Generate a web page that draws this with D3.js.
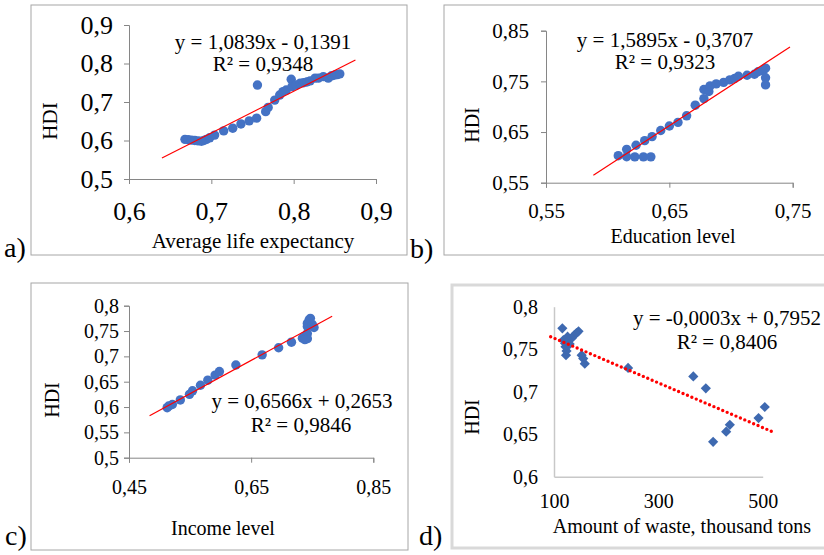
<!DOCTYPE html>
<html>
<head>
<meta charset="utf-8">
<script src="https://cdn.jsdelivr.net/npm/d3@7/dist/d3.min.js"></script>
<style>
html,body{margin:0;padding:0;background:#fff;}
svg{display:block;font-family:"Liberation Serif","Times New Roman",serif;}
</style>
</head>
<body>
<svg id="chart" width="824" height="555"></svg>
<script>
// ---------- DATA ----------
// a) Average life expectancy vs HDI
const aLife = [0.668,0.672,0.676,0.680,0.684,0.688,0.691,0.694,0.698,0.704,0.715,0.726,0.736,0.746,0.755,0.756,0.766,0.769,0.777,0.783,0.787,0.791,0.797,0.798,0.803,0.808,0.812,0.816,0.820,0.826,0.830,0.836,0.842,0.846,0.850,0.853,0.856];
const aHDI  = [0.603,0.602,0.601,0.600,0.599,0.598,0.600,0.603,0.607,0.614,0.625,0.632,0.643,0.651,0.658,0.744,0.675,0.686,0.705,0.718,0.727,0.731,0.759,0.740,0.744,0.749,0.750,0.752,0.755,0.762,0.762,0.766,0.762,0.768,0.770,0.771,0.773];
const aTrend = {slope:1.0839, intercept:-0.1391, from:0.64, to:0.875};
const aEquation = ["y = 1,0839x - 0,1391", "R² = 0,9348"];

// b) Education level vs HDI
const bEdu = [0.6086,0.6154,0.6154,0.622,0.623,0.629,0.630,0.635,0.636,0.643,0.650,0.657,0.664,0.671,0.678,0.678,0.682,0.683,0.688,0.694,0.699,0.703,0.706,0.713,0.719,0.722,0.726,0.728,0.728,0.728];
const bHDI = [0.6033,0.6158,0.6013,0.601,0.624,0.601,0.633,0.601,0.641,0.653,0.662,0.669,0.682,0.703,0.716,0.734,0.730,0.741,0.745,0.748,0.753,0.756,0.760,0.762,0.764,0.769,0.771,0.776,0.757,0.743];
const bTrend = {slope:1.5895, intercept:-0.3707, from:0.5884, to:0.7478};
const bEquation = ["y = 1,5895x - 0,3707", "R² = 0,9323"];

// c) Income level vs HDI
const cIncome = [0.5125,0.515,0.521,0.534,0.549,0.554,0.567,0.579,0.591,0.598,0.625,0.668,0.695,0.716,0.734,0.739,0.742,0.742,0.742,0.745,0.747,0.750,0.753,0.742,0.738];
const cHDI    = [0.5987,0.602,0.605,0.614,0.625,0.632,0.643,0.653,0.663,0.670,0.683,0.703,0.717,0.728,0.736,0.741,0.745,0.759,0.765,0.772,0.775,0.763,0.757,0.735,0.733];
const cTrend = {slope:0.6566, intercept:0.2653, from:0.4837, to:0.7826};
const cEquation = ["y = 0,6566x + 0,2653", "R² = 0,9846"];

// d) Amount of waste vs HDI
const dWaste = [116,118,121,123,124,126,129,134,138,143,147,153,156,159,242,367,391,405,430,437,492,504,122,130];
const dHDI   = [0.7745,0.7608,0.757,0.743,0.748,0.7647,0.761,0.763,0.766,0.769,0.771,0.743,0.739,0.733,0.728,0.718,0.704,0.641,0.653,0.661,0.669,0.682,0.753,0.756];
const dTrend = {slope:-0.000263, intercept:0.7893, from:93.6, to:519};
const dEquation = ["y = -0,0003x + 0,7952", "R² = 0,8406"];

// tick values
const aXTicks = [0.6,0.7,0.8,0.9], aYTicks = [0.5,0.6,0.7,0.8,0.9];
const bXTicks = [0.55,0.65,0.75], bYTicks = [0.55,0.65,0.75,0.85];
const cXTicks = [0.45,0.65,0.85], cYTicks = [0.5,0.55,0.6,0.65,0.7,0.75,0.8];
const dXTicks = [100,300,500], dYTicks = [0.6,0.65,0.7,0.75,0.8];

// ---------- DRAW ----------
const svg = d3.select("#chart");
const fmt = v => String(+v.toFixed(4)).replace(".", ",");

function panel(o){
  const g = svg.append("g");
  g.append("rect").attr("x",o.box[0]).attr("y",o.box[1]).attr("width",o.box[2]-o.box[0]).attr("height",o.box[3]-o.box[1])
    .attr("fill","#fff").attr("stroke",o.boxColor).attr("stroke-width",o.boxWidth);
  const x = d3.scaleLinear().domain(o.xDomain).range(o.xRange);
  const y = d3.scaleLinear().domain(o.yDomain).range(o.yRange);

  const xa = g.append("g").attr("transform",`translate(0,${o.yRange[0]})`)
    .call(d3.axisBottom(x).tickValues(o.xTicks).tickFormat(fmt).tickSizeOuter(0).tickSize(o.tick).tickPadding(o.xPad));
  const ya = g.append("g").attr("transform",`translate(${o.xRange[0]},0)`)
    .call(d3.axisLeft(y).tickValues(o.yTicks).tickFormat(fmt).tickSizeOuter(0).tickSize(o.tick).tickPadding(o.yPad));
  [xa,ya].forEach(a=>{
    a.attr("font-family",null);
    a.select(".domain").attr("stroke",o.axisColor).attr("stroke-width",o.axisWidth);
    a.selectAll(".tick line").attr("stroke",o.axisColor);
    a.selectAll("text").attr("fill","#000").style("font-size",o.tickFont+"px").style("font-family","'Liberation Serif', serif");
  });

  // points
  const pts = o.xs.map((v,i)=>({x:v,y:o.ys[i]}));
  if (o.marker === "circle") {
    g.append("g").selectAll("circle").data(pts).join("circle")
      .attr("cx",d=>x(d.x)).attr("cy",d=>y(d.y)).attr("r",4.7).attr("fill","#4472C4");
  } else {
    g.append("g").selectAll("path").data(pts).join("path")
      .attr("d", d3.symbol(d3.symbolSquare, 52))
      .attr("transform",d=>`translate(${x(d.x)},${y(d.y)}) rotate(45)`)
      .attr("fill","#3E69B0");
  }
  // trendline
  const t = o.trend;
  const tl = g.append("line").attr("x1",x(t.from)).attr("y1",y(t.slope*t.from+t.intercept))
    .attr("x2",x(t.to)).attr("y2",y(t.slope*t.to+t.intercept)).attr("stroke","#FF0000");
  if (o.dotted) tl.attr("stroke-width",3.4).attr("stroke-linecap","round").attr("stroke-dasharray","0 4.8");
  else tl.attr("stroke-width",1.2);

  // equation
  o.eq.forEach((s,i)=>{
    g.append("text").attr("x",o.eqPos[i][0]).attr("y",o.eqPos[i][1]).attr("text-anchor","middle")
      .style("font-size",o.eqFont+"px").text(s);
  });
  // axis titles
  g.append("text").attr("x",o.xTitlePos[0]).attr("y",o.xTitlePos[1]).attr("text-anchor","middle")
    .style("font-size",o.titleFont+"px").text(o.xTitle);
  g.append("text").attr("transform",`translate(${o.yTitlePos[0]},${o.yTitlePos[1]}) rotate(-90)`)
    .attr("text-anchor","middle").attr("dy","0.35em").style("font-size",o.titleFont+"px").text("HDI");
  // panel letter
  svg.append("text").attr("x",o.letterPos[0]).attr("y",o.letterPos[1]).style("font-size","28px").text(o.letter);
}

panel({box:[31,5,407,255], boxColor:"#a6a6a6", boxWidth:1,
  xDomain:[0.6,0.9], xRange:[129,376], yDomain:[0.5,0.9], yRange:[179,25],
  xTicks:aXTicks, yTicks:aYTicks, tick:5, xPad:18, yPad:11, tickFont:26,
  axisColor:"#868686", axisWidth:1, xs:aLife, ys:aHDI, marker:"circle", trend:aTrend,
  eq:aEquation, eqPos:[[263,49],[263,71]], eqFont:21,
  xTitle:"Average life expectancy", xTitlePos:[253,248], titleFont:21, yTitlePos:[50,121],
  letter:"a)", letterPos:[4,257]});

panel({box:[444,5,830,255], boxColor:"#a6a6a6", boxWidth:1,
  xDomain:[0.55,0.75], xRange:[546,792.7], yDomain:[0.55,0.85], yRange:[182.7,30.7],
  xTicks:bXTicks, yTicks:bYTicks, tick:5, xPad:15, yPad:12, tickFont:21,
  axisColor:"#868686", axisWidth:1, xs:bEdu, ys:bHDI, marker:"circle", trend:bTrend,
  eq:bEquation, eqPos:[[665,47],[665,69]], eqFont:21,
  xTitle:"Education level", xTitlePos:[673,243], titleFont:20, yTitlePos:[472,125],
  letter:"b)", letterPos:[410,258]});

panel({box:[31,283,408,550], boxColor:"#a6a6a6", boxWidth:1,
  xDomain:[0.45,0.85], xRange:[129,373.3], yDomain:[0.5,0.8], yRange:[457.7,305.7],
  xTicks:cXTicks, yTicks:cYTicks, tick:5, xPad:17, yPad:5, tickFont:20,
  axisColor:"#868686", axisWidth:1, xs:cIncome, ys:cHDI, marker:"circle", trend:cTrend,
  eq:cEquation, eqPos:[[302,408],[301,432]], eqFont:21,
  xTitle:"Income level", xTitlePos:[223,535], titleFont:20, yTitlePos:[52,400],
  letter:"c)", letterPos:[5,545]});

panel({box:[452,285,830,548], boxColor:"#d9d9d9", boxWidth:3,
  xDomain:[100,500], xRange:[554,762.7], yDomain:[0.6,0.8], yRange:[476.7,306.7],
  xTicks:dXTicks, yTicks:dYTicks, tick:0, xPad:17, yPad:16, tickFont:20,
  axisColor:"#c8c8c8", axisWidth:1.5, xs:dWaste, ys:dHDI, marker:"diamond", trend:dTrend, dotted:true,
  eq:dEquation, eqPos:[[727,325],[727,349]], eqFont:21,
  xTitle:"Amount of waste, thousand tons", xTitlePos:[682,533], titleFont:20, yTitlePos:[472,417],
  letter:"d)", letterPos:[419,545]});
</script>
</body>
</html>
